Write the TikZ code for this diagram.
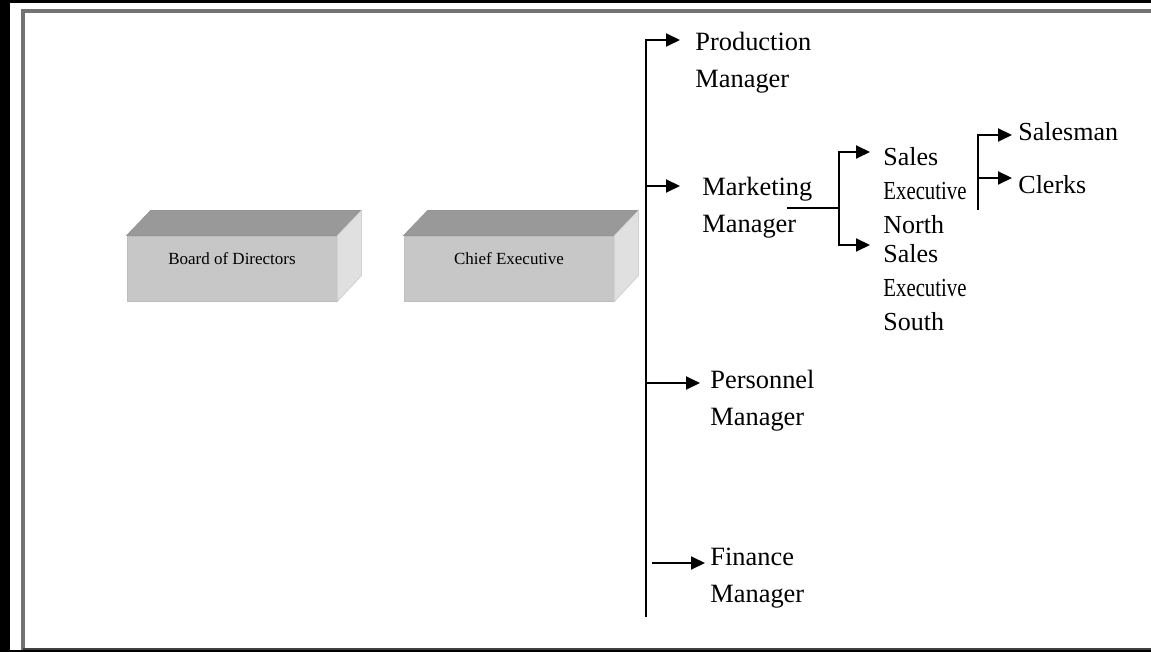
\documentclass[tikz,border=0pt]{standalone}
\usepackage{fontspec}
\setmainfont{Liberation Serif}
\usetikzlibrary{arrows.meta,calc}

\tikzset{
  wire/.style={line width=1pt},
  post/.style={line width=1pt, -{Triangle[length=7pt,width=6.5pt]}},
  mgr/.style={anchor=west, align=left, inner sep=0pt,
              font=\fontsize{13.2}{18.5}\selectfont},
  sub/.style={anchor=west, align=left, inner sep=0pt,
              font=\fontsize{13}{17}\selectfont},
  front/.style={fill=black!22, draw=black!26, line width=0.4pt,
                minimum width=105pt, minimum height=32.5pt, inner sep=0pt},
  topface/.style={fill=black!40, draw=black!42, line width=0.4pt},
  sideface/.style={fill=black!12, draw=black!18, line width=0.4pt},
  boxtext/.style={font=\fontsize{8.5}{10}\selectfont, inner sep=0pt}
}

\begin{document}
\begin{tikzpicture}[x=0.5pt,y=-0.5pt]
   \useasboundingbox (0,0) rectangle (1151,652);
   %
   \fill[black] (0,0) rectangle (1151,652);
   \fill[white] (10,3) rectangle (1151,650);
   \draw[black!55, line width=1.8pt] (23,650) -- (23,11) -- (1151,11);
   \draw[black!75, line width=1pt] (23,649) -- (1151,649);
   %
   \node[front] (board) at (232,268.5) {};
   \path[topface] (board.north west) -- ++(24,-25) -- ++(210,0)
        -- (board.north east) -- cycle;
   \path[sideface] (board.north east) -- ++(24,-25) -- ++(0,65)
        -- (board.south east) -- cycle;
   \node[boxtext] (boardlbl) at ($(board.center)+(0,-10)$) {Board of Directors};
   %
   \node[front] (chief) at (509,268.5) {};
   \path[topface] (chief.north west) -- ++(24,-25) -- ++(210,0)
        -- (chief.north east) -- cycle;
   \path[sideface] (chief.north east) -- ++(24,-25) -- ++(0,65)
        -- (chief.south east) -- cycle;
   \node[boxtext] (chieflbl) at ($(chief.center)+(0,-10)$) {Chief Executive};
   %
   \node[mgr] (prod) at (695,63) {Production\\Manager};
   \node[mgr] (mkt) at (702,208) {Marketing\\Manager};
   \node[mgr] (pers) at (710,401) {Personnel\\Manager};
   \node[mgr] (fin) at (710,578) {Finance\\Manager};
   %
   \node[sub] (north) at (883,191) {Sales\\\scalebox{0.8}[1]{Executive}\\North};
   \node[sub] (south) at (883,288) {Sales\\\scalebox{0.8}[1]{Executive}\\South};
   \node[sub] (salesman) at (1018,132) {Salesman};
   \node[sub] (clerks) at (1018,185) {Clerks};
   %
   \coordinate (top) at (646,40);
   \coordinate (bot) at (646,617);
   \coordinate (mkt-j) at (646,186);
   \coordinate (pers-j) at (646,383);
   \coordinate (fin-j) at (652,563);
   %
   \draw[post, shorten >=7.5pt] (bot) -- (top) -- (top -| prod.west);
   \draw[post, shorten >=11pt] (mkt-j) -- (mkt-j -| mkt.west);
   \draw[post, shorten >=5pt] (pers-j) -- (pers-j -| pers.west);
   \draw[post, shorten >=2.5pt] (fin-j) -- (fin-j -| fin.west);
   %
   \coordinate (mkt-out) at (787,208);
   \coordinate (mkt-fork) at (839,208);
   \coordinate (north-j) at (839,152);
   \coordinate (south-j) at (839,245);
   %
   \draw[wire] (mkt-out) -- (mkt-fork);
   \draw[post, shorten >=6.5pt] (mkt-fork) -- (north-j) -- (north-j -| north.west);
   \draw[post, shorten >=6.5pt] (mkt-fork) -- (south-j) -- (south-j -| south.west);
   %
   \coordinate (sm-j) at (978,135);
   \coordinate (cl-j) at (978,178);
   \coordinate (exec-end) at (978,210);
   %
   \draw[post, shorten >=3pt] (exec-end) -- (sm-j) -- (sm-j -| salesman.west);
   \draw[post, shorten >=3pt] (cl-j) -- (cl-j -| clerks.west);
   %
\end{tikzpicture}
\end{document}
